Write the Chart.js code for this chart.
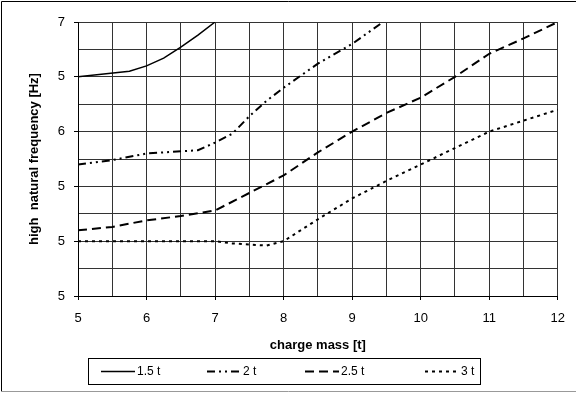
<!DOCTYPE html>
<html>
<head>
<meta charset="utf-8">
<script src="https://cdn.jsdelivr.net/npm/chart.js@4.4.1/dist/chart.umd.min.js"></script>
<style>
  html, body { margin: 0; padding: 0; background: #fff; }
  #wrap { position: relative; width: 576px; height: 394px; }
</style>
</head>
<body>
<div id="wrap"><canvas id="chart" width="576" height="394"></canvas></div>
<script>
// charge mass [t] per series
const mass15 = [5, 5.75, 6, 6.25, 6.5, 6.75, 7];
const freq15 = [6.50, 6.55, 6.60, 6.67, 6.77, 6.88, 7.00];

const mass2 = [5, 5.5, 6, 6.5, 6.75, 7, 7.25, 7.5, 7.75, 8, 8.5, 9, 9.45];
const freq2 = [5.70, 5.74, 5.80, 5.82, 5.83, 5.90, 5.98, 6.14, 6.28, 6.40, 6.62, 6.80, 7.00];

const mass25 = [5, 5.5, 6, 6.5, 7, 7.5, 8, 8.5, 9, 9.5, 10, 10.5, 11, 11.5, 12];
const freq25 = [5.10, 5.13, 5.19, 5.23, 5.28, 5.44, 5.60, 5.81, 6.00, 6.17, 6.31, 6.50, 6.71, 6.85, 7.00];

const mass3 = [5, 5.5, 6, 6.5, 7, 7.25, 7.5, 7.75, 8, 8.5, 9, 9.5, 10, 10.5, 11, 11.5, 12];
const freq3 = [5.00, 5.00, 5.00, 5.00, 5.00, 4.98, 4.97, 4.96, 5.00, 5.20, 5.39, 5.55, 5.70, 5.85, 6.00, 6.10, 6.20];

const seriesNames = ["1.5 t", "2 t", "2.5 t", "3 t"];

// y tick labels exactly as printed on the original axis
const yTickValues = [4.5, 5, 5.5, 6, 6.5, 7];
const yTickLabels = ["5", "5", "5", "6", "5", "7"];

const FONT = "'Liberation Sans', Arial, sans-serif";

function pts(xs, ys) {
  return xs.map((x, i) => ({ x, y: ys[i] }));
}

const styles = [
  { borderWidth: 1.5, borderDash: [] },
  { borderWidth: 2, borderDash: [8, 4, 2, 4, 2, 4] },
  { borderWidth: 2, borderDash: [9, 5] },
  { borderWidth: 2, borderDash: [3, 4] },
];

const datasets = [
  pts(mass15, freq15),
  pts(mass2, freq2),
  pts(mass25, freq25),
  pts(mass3, freq3),
].map((data, i) => ({
  label: seriesNames[i],
  data,
  showLine: true,
  borderColor: "#000",
  backgroundColor: "#000",
  pointRadius: 0,
  fill: false,
  tension: 0,
  ...styles[i],
}));

const frame = {
  id: "frame",
  beforeDraw(chart) {
    const c = chart.ctx;
    c.save();
    c.fillStyle = "#fff";
    c.fillRect(0, 0, chart.width, chart.height);
    c.restore();
  },
  afterDraw(chart) {
    const c = chart.ctx;
    c.save();
    c.strokeStyle = "#000";
    c.lineWidth = 1;
    c.beginPath();
    c.moveTo(1.5, 391);
    c.lineTo(1.5, 1.5);
    c.lineTo(576, 1.5);
    c.stroke();
    c.strokeStyle = "#999";
    c.beginPath();
    c.moveTo(1, 391.5);
    c.lineTo(576, 391.5);
    c.stroke();

    // legend box
    c.strokeStyle = "#000";
    c.strokeRect(88.5, 358.5, 392, 26);
    const starts = [101, 207, 305, 425];
    c.font = "12px " + FONT;
    c.textBaseline = "middle";
    c.fillStyle = "#000";
    chart.data.datasets.forEach((ds, i) => {
      const x0 = starts[i];
      c.beginPath();
      c.lineWidth = ds.borderWidth;
      c.setLineDash(ds.borderDash);
      c.moveTo(x0, 371.5);
      c.lineTo(x0 + 34, 371.5);
      c.stroke();
      c.setLineDash([]);
      c.fillText(ds.label, x0 + 36, 372);
    });
    c.restore();
  },
};

new Chart(document.getElementById("chart"), {
  type: "scatter",
  data: { datasets },
  options: {
    responsive: false,
    animation: false,
    layout: { padding: { left: 0, top: 22, right: 13, bottom: 38 } },
    plugins: {
      legend: { display: false },
      tooltip: { enabled: false },
    },
    scales: {
      x: {
        type: "linear",
        min: 5,
        max: 12,
        afterFit(s) { s.height = 60; },
        ticks: {
          stepSize: 0.5,
          autoSkip: false,
          maxRotation: 0,
          padding: 11,
          color: "#000",
          font: { family: FONT, size: 13 },
          callback: (v) => (Number.isInteger(v) ? String(v) : ""),
        },
        grid: {
          color: "#333",
          lineWidth: 1,
          tickLength: 4,
          tickColor: (ctx) => (ctx.tick && Number.isInteger(ctx.tick.value) ? "#000" : "rgba(0,0,0,0)"),
        },
        border: { display: true, color: "#000", width: 1 },
        title: {
          display: true,
          text: "charge mass [t]",
          color: "#000",
          font: { family: FONT, size: 13, weight: "bold" },
          padding: { top: 0, bottom: 3 },
        },
      },
      y: {
        type: "linear",
        min: 4.5,
        max: 7,
        afterFit(s) { s.width = 78; },
        ticks: {
          stepSize: 0.25,
          autoSkip: false,
          padding: 9,
          color: "#000",
          font: { family: FONT, size: 13 },
          callback: (v) => {
            const k = yTickValues.findIndex((t) => Math.abs(t - v) < 1e-6);
            return k >= 0 ? yTickLabels[k] : "";
          },
        },
        grid: {
          color: "#333",
          lineWidth: 1,
          tickLength: 4,
          tickColor: (ctx) => {
            const v = ctx.tick ? ctx.tick.value : 0;
            return yTickValues.some((t) => Math.abs(t - v) < 1e-6) ? "#000" : "rgba(0,0,0,0)";
          },
        },
        border: { display: true, color: "#000", width: 1 },
        title: {
          display: true,
          text: "high  natural frequency [Hz]",
          color: "#000",
          font: { family: FONT, size: 13, weight: "bold" },
          padding: { top: 27, bottom: 0 },
        },
      },
    },
  },
  plugins: [frame],
});
</script>
</body>
</html>
